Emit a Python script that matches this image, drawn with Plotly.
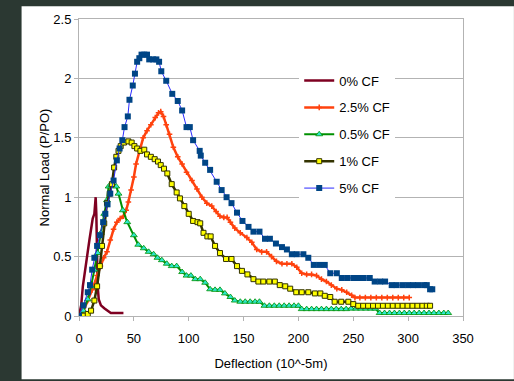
import plotly.graph_objects as go

# ---- data ----
x0 = [0, 2, 3.5, 5, 6.5, 8, 9.5, 11, 12.5, 14, 15.2, 15.8, 16.4, 17, 18, 20, 23, 26, 29, 32, 35, 38, 40.5]
y0 = [0, 0.09, 0.25, 0.36, 0.45, 0.53, 0.64, 0.73, 0.82, 0.86, 1.0, 0.86, 0.53, 0.25, 0.14, 0.09, 0.065, 0.045, 0.025, 0.025, 0.025, 0.025, 0.025]

x25 = [0, 4, 8, 12, 16.5, 19.5, 22.5, 25.5, 28.5, 31.5, 34.5, 37.5, 40.5, 43, 45, 47.5, 50, 52, 55, 58.5,
       62, 65.5, 69.5, 72.5, 74.5, 77, 79.5, 82.5, 86, 90, 94, 98, 103, 107.5, 112, 116.5, 121, 125, 128.5, 132,
       135, 138, 142, 147, 153, 157.5, 162, 166.5, 171, 175.5, 180, 185, 189.5, 194, 198.5, 203, 207.5, 212, 216.5, 221,
       225.5, 230, 235, 239.5, 244, 248.5, 251.5, 256, 261, 266, 271, 276, 281, 286, 291, 296, 301]
y25 = [0, 0.04, 0.13, 0.22, 0.34, 0.42, 0.49, 0.54, 0.64, 0.73, 0.79, 0.82, 0.84, 0.89, 0.96, 1.06, 1.17, 1.28, 1.39, 1.5,
       1.56, 1.61, 1.67, 1.71, 1.72, 1.68, 1.61, 1.53, 1.42, 1.34, 1.28, 1.21, 1.14, 1.07, 1.0, 0.95, 0.925, 0.88, 0.84, 0.83,
       0.83, 0.79, 0.74, 0.70, 0.66, 0.62, 0.56, 0.54, 0.54, 0.50, 0.46, 0.44, 0.44, 0.44, 0.41, 0.36, 0.35, 0.35, 0.34, 0.31,
       0.29, 0.26, 0.23, 0.22, 0.20, 0.175, 0.155, 0.155, 0.155, 0.155, 0.155, 0.155, 0.155, 0.155, 0.155, 0.155, 0.155]

x05 = [0, 4, 8, 11, 14, 17, 20, 23, 25.5, 27, 29.5, 31.5, 34, 36, 40, 44, 50, 54, 59, 63.5,
       68, 71.5, 75.5, 80, 84.5, 89, 94, 98, 102, 106, 110.5, 115, 119.5, 124, 128.5, 133, 138, 142, 147, 151.5,
       156, 160.5, 164.5, 169, 173.5, 178, 182.5, 187, 191.5, 196, 200, 203, 207.5, 212, 216.5, 221, 225.5, 230, 234.5, 239,
       243.5, 248, 252.5, 257, 261.5, 266, 270, 274, 278.5, 283, 287.5, 292, 296.5, 301, 305.5, 310, 314.5, 319, 323.5, 328,
       332.5, 336.5]
y05 = [0, 0.045, 0.14, 0.25, 0.39, 0.53, 0.70, 0.86, 0.975, 1.09, 1.10, 1.10, 1.09, 1.03, 0.89, 0.79, 0.68, 0.60, 0.57, 0.54,
       0.52, 0.49, 0.47, 0.44, 0.42, 0.42, 0.37, 0.34, 0.34, 0.31, 0.31, 0.28, 0.225, 0.22, 0.22, 0.19, 0.16, 0.13, 0.12, 0.12,
       0.12, 0.12, 0.12, 0.086, 0.086, 0.086, 0.086, 0.086, 0.086, 0.086, 0.086, 0.058, 0.058, 0.058, 0.058, 0.058, 0.058, 0.058, 0.058, 0.058,
       0.058, 0.062, 0.062, 0.062, 0.062, 0.062, 0.062, 0.025, 0.025, 0.025, 0.025, 0.025, 0.025, 0.025, 0.025, 0.025, 0.025, 0.025, 0.025, 0.025,
       0.025, 0.025]

x1 = [0, 4, 8, 11, 14, 16.5, 19, 21, 23, 25.5, 28, 30, 32, 34, 36, 38, 41, 45, 48, 50.5,
      53, 56, 59.5, 62, 65.5, 69, 72, 74.5, 77.5, 80.5, 84.5, 89, 92, 96, 100, 104, 108, 110.5, 113.5, 117,
      120, 124, 128.5, 134, 139, 144, 148.5, 153.5, 159, 163.5, 168, 173.5, 178.5, 183, 188, 192.5, 198, 203, 209, 215,
      220, 224, 229, 233, 239, 245.5, 250, 254.5, 259, 263.5, 268, 272.5, 277, 281.5, 286, 290.5, 295, 299.5, 304, 308.5,
      313, 317, 320]
y1 = [0, 0.003, 0.017, 0.045, 0.13, 0.25, 0.42, 0.59, 0.78, 0.95, 1.03, 1.11, 1.25, 1.34, 1.39, 1.43, 1.46, 1.47, 1.46, 1.43,
      1.41, 1.39, 1.40, 1.36, 1.34, 1.32, 1.30, 1.27, 1.24, 1.20, 1.11, 1.04, 0.99, 0.925, 0.86, 0.80, 0.79, 0.78, 0.70, 0.67,
      0.67, 0.59, 0.53, 0.48, 0.48, 0.42, 0.38, 0.35, 0.31, 0.29, 0.29, 0.29, 0.29, 0.26, 0.25, 0.23, 0.20, 0.20, 0.20, 0.19,
      0.19, 0.17, 0.16, 0.12, 0.12, 0.12, 0.10, 0.086, 0.086, 0.086, 0.086, 0.086, 0.086, 0.086, 0.086, 0.086, 0.086, 0.086, 0.086, 0.086,
      0.086, 0.086, 0.086]

x5 = [0, 4, 8, 10, 12, 14, 16.5, 19, 22, 24, 26, 28.5, 31.5, 34.5, 37, 39.5, 41.5, 44.5, 46, 49,
      51, 53, 55, 57, 59.5, 62, 64, 67.5, 70.5, 73, 75, 79.5, 85, 90, 94, 98, 101, 104, 110, 111,
      115, 119.5, 125.5, 130, 134.5, 139, 144, 149, 154.5, 159, 164.5, 169.5, 174, 179.5, 185, 189.5, 194, 198.5, 204.5, 209,
      214, 219, 224, 229, 235, 239.5, 244.5, 250, 254.5, 259.5, 265, 269.5, 274.5, 279, 285, 289.5, 295, 300, 304.5, 309,
      314.5, 317, 320, 322]
y5 = [0, 0.09, 0.2, 0.26, 0.39, 0.49, 0.59, 0.68, 0.79, 0.86, 0.94, 1.03, 1.14, 1.31, 1.41, 1.48, 1.59, 1.68, 1.82, 1.94,
      2.04, 2.14, 2.17, 2.2, 2.2, 2.2, 2.16, 2.16, 2.16, 2.14, 2.06, 1.98, 1.87, 1.81, 1.73, 1.59, 1.59, 1.48, 1.39, 1.35,
      1.29, 1.23, 1.13, 1.06, 1.0, 0.95, 0.87, 0.8, 0.75, 0.71, 0.71, 0.65, 0.65, 0.61, 0.58, 0.56, 0.52, 0.52, 0.52, 0.49,
      0.43, 0.43, 0.43, 0.36, 0.36, 0.32, 0.32, 0.32, 0.32, 0.32, 0.32, 0.29, 0.29, 0.29, 0.26, 0.26, 0.26, 0.26, 0.26, 0.26,
      0.26, 0.26, 0.225, 0.225]

names = ["0% CF", "2.5% CF", "0.5% CF", "1% CF", "5% CF"]
x_ticks = [0, 50, 100, 150, 200, 250, 300, 350]
y_ticks = [0, 0.5, 1, 1.5, 2, 2.5]

FONT = "Liberation Sans, Arial, sans-serif"

fig = go.Figure()
fig.add_trace(go.Scatter(x=x0, y=y0, name=names[0], mode="lines", legendgroup="a",
                         line=dict(color="#7e0021", width=2.5)))
fig.add_trace(go.Scatter(x=x25, y=y25, name=names[1], mode="lines+markers", legendgroup="b",
                         line=dict(color="#ff420e", width=2.5),
                         marker=dict(symbol="cross-thin", size=4, color="#ff420e",
                                     line=dict(color="#ff420e", width=1.5))))
fig.add_trace(go.Scatter(x=x05, y=y05, name=names[2], mode="lines+markers", legendgroup="c",
                         line=dict(color="#009000", width=2),
                         marker=dict(symbol="triangle-up", size=6, color="#2ee6cc",
                                     line=dict(color="#009000", width=0.8))))
fig.add_trace(go.Scatter(x=x1, y=y1, name=names[3], mode="lines+markers", legendgroup="d",
                         line=dict(color="#333300", width=2.5),
                         marker=dict(symbol="square", size=5, color="#ffff00",
                                     line=dict(color="#333300", width=1))))
fig.add_trace(go.Scatter(x=x5, y=y5, name=names[4], mode="lines+markers", legendgroup="e",
                         line=dict(color="#2a2aff", width=1),
                         marker=dict(symbol="square", size=6, color="#004586",
                                     line=dict(width=0))))

# white panel on dark slide background
fig.add_shape(type="rect", xref="paper", yref="paper", layer="below",
              x0=(21 - 78.5) / 384.5, x1=(514 - 78.5) / 384.5,
              y0=(317 - 381) / 300, y1=(317 - 4) / 300,
              fillcolor="white", line=dict(width=0))

fig.update_layout(
    width=514, height=381,
    margin=dict(l=78.5, r=51, t=17, b=64),
    paper_bgcolor="#2b3832",
    plot_bgcolor="white",
    font=dict(family=FONT, size=13, color="black"),
    showlegend=True,
    legend=dict(x=(299 - 78.5) / 384.5, y=(317 - 64) / 300, xanchor="left", yanchor="top",
                bgcolor="white", borderwidth=0, tracegroupgap=7,
                font=dict(family=FONT, size=13, color="black")),
    xaxis=dict(range=[0, 350], tickvals=x_ticks, ticktext=[str(v) for v in x_ticks],
               showgrid=False, showline=True, linecolor="#b3b3b3", linewidth=1, mirror=True,
               ticks="outside", ticklen=4, tickcolor="#b3b3b3", zeroline=False,
               ticklabelstandoff=6,
               title=dict(text="Deflection (10^-5m)", font=dict(size=13), standoff=14)),
    yaxis=dict(range=[0, 2.5], tickvals=y_ticks, ticktext=["0", "0.5", "1", "1.5", "2", "2.5"],
               showgrid=True, gridcolor="#b3b3b3", gridwidth=1,
               showline=True, linecolor="#b3b3b3", linewidth=1, mirror=True,
               ticks="outside", ticklen=4, tickcolor="#b3b3b3", zeroline=False,
               title=dict(text="Normal Load (P/PO)", font=dict(size=13), standoff=0)),
)

fig.write_html("out.html", config={"displayModeBar": False},
               post_script="document.body.style.margin='0';document.body.style.background='#2b3832';")
